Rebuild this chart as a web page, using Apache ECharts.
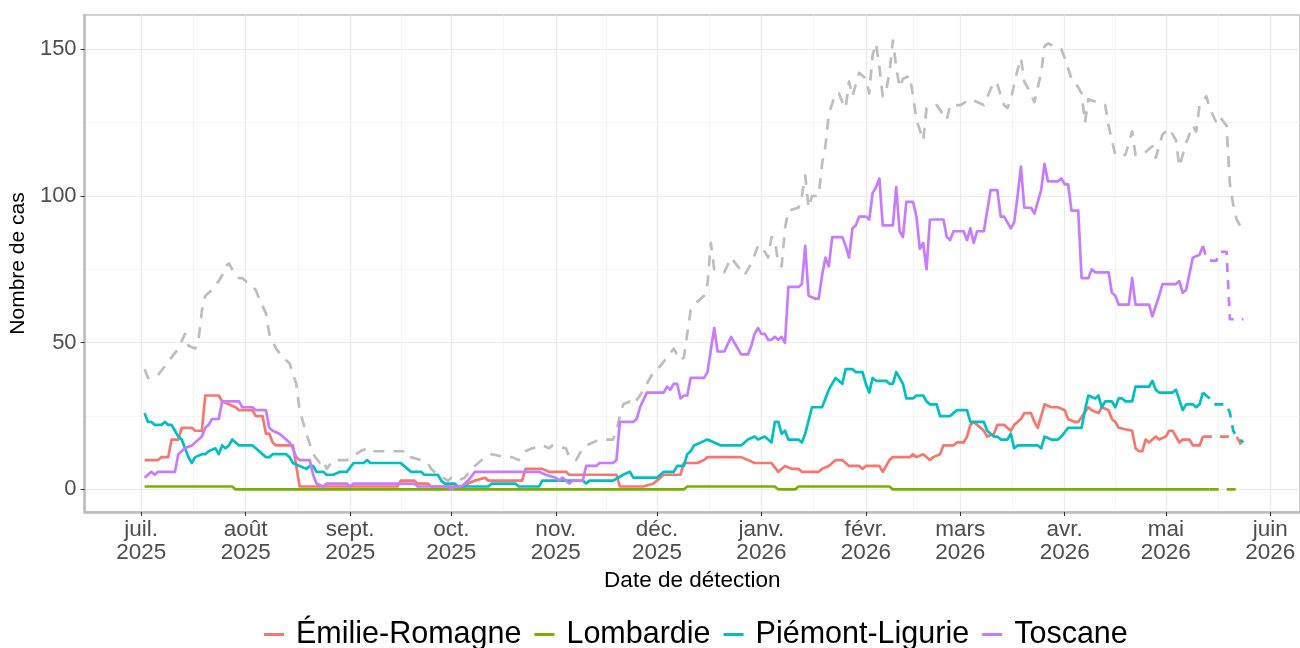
<!DOCTYPE html>
<html>
<head>
<meta charset="utf-8">
<script src="https://cdn.jsdelivr.net/npm/echarts@6/dist/echarts.min.js"></script>
<style>
  html, body { margin: 0; padding: 0; background: #ffffff; }
  #chart { width: 1300px; height: 648px; }
</style>
</head>
<body>
<div id="chart"></div>
<script>
// Daily counts by region; each point is [days since 2025-07-01, cases].
const startDate = '2025-07-01';

const emilieRomagne = [[1,10],[5,10],[6,11],[8,11],[9,17],[11,17],[12,21],[15,21],[16,20],[18,20],[19,32],[23,32],[24,30],[26,29],[28,28],[29,27],[33,27],[34,25],[36,25],[37,19],[38,19],[39,16],[40,15],[45,15],[46,8],[47,1],[76,1],[77,3],[81,3],[82,2],[85,2],[86,1],[96,1],[97,2],[99,3],[102,4],[103,3],[113,3],[114,7],[119,7],[121,6],[126,6],[127,5],[141,5],[142,1],[149,1],[152,2],[153,3],[155,5],[160,5],[161,9],[165,9],[167,10],[168,11],[178,11],[180,10],[182,9],[187,9],[189,6],[191,8],[193,7],[195,7],[196,6],[201,6],[202,7],[204,8],[206,10],[208,10],[209,9],[210,8],[213,8],[214,7],[215,8],[219,8],[220,6],[222,10],[223,11],[228,11],[229,12],[230,11],[232,12],[234,10],[235,11],[237,12],[238,15],[241,15],[242,16],[244,16],[245,18],[246,22],[247,23],[248,22],[250,20],[251,18],[253,19],[254,22],[256,22],[258,20],[259,22],[261,24],[262,26],[264,26],[265,23],[266,21],[267,25],[268,29],[270,28],[272,28],[274,27],[275,24],[277,23],[278,23],[281,28],[282,27],[284,26],[285,28],[287,27],[288,24],[289,23],[290,21],[294,20],[295,14],[296,13],[297,13],[298,17],[299,16],[301,18],[302,17],[304,18],[305,20],[306,20],[308,16],[309,17],[311,17],[312,15],[314,15],[315,18]];
const emilieRomagneProvisional = [[315,18],[325,18],[326,16],[327,13]];

const lombardie = [[1,1],[27,1],[28,0],[161,0],[162,1],[188,1],[189,0],[194,0],[195,1],[222,1],[223,0],[317,0]];
const lombardieProvisional = [[317,0],[327,0]];

const piemontLigurie = [[1,26],[2,23],[3,23],[4,22],[6,22],[7,23],[8,22],[9,22],[10,20],[11,18],[12,17],[13,14],[14,11],[15,9],[16,11],[18,12],[19,12],[20,13],[22,14],[23,12],[24,15],[25,14],[26,15],[27,17],[28,16],[29,15],[33,15],[34,14],[36,12],[37,11],[38,11],[39,12],[43,12],[44,11],[45,9],[47,8],[49,7],[50,8],[51,8],[52,6],[54,6],[55,5],[57,5],[59,6],[61,6],[63,9],[66,9],[67,10],[68,9],[77,9],[79,7],[80,6],[83,6],[84,5],[88,5],[89,3],[90,2],[93,2],[94,1],[103,1],[104,2],[111,2],[112,1],[118,1],[119,3],[131,3],[132,2],[133,3],[140,3],[143,5],[145,6],[146,4],[153,4],[155,6],[158,6],[159,8],[161,8],[162,12],[163,13],[164,15],[166,16],[168,17],[170,16],[172,15],[178,15],[180,17],[182,18],[183,17],[185,18],[186,17],[187,16],[188,23],[189,23],[190,19],[191,20],[192,17],[195,17],[196,16],[197,19],[199,28],[202,28],[204,34],[206,38],[207,37],[208,36],[209,41],[211,41],[212,40],[214,40],[215,36],[216,33],[217,38],[218,37],[221,37],[222,36],[223,36],[224,40],[225,38],[226,36],[227,31],[229,31],[230,32],[232,32],[233,30],[234,29],[236,29],[237,25],[240,25],[241,26],[242,27],[245,27],[246,23],[250,23],[251,20],[253,18],[254,18],[255,17],[257,17],[258,19],[259,14],[260,15],[266,15],[267,14],[268,18],[270,17],[272,17],[273,18],[275,21],[279,21],[280,27],[281,32],[283,31],[284,32],[285,28],[286,30],[288,30],[289,28],[290,31],[291,31],[292,30],[294,30],[295,35],[299,35],[300,37],[301,34],[302,33],[306,33],[307,34],[309,27],[310,29],[312,29],[313,28],[314,29],[315,33]];
const piemontLigurieProvisional = [[315,33],[317,31],[318,29],[322,29],[323,26],[324,20],[325,18],[326,17],[327,16]];

const toscane = [[1,4],[2,5],[3,6],[4,5],[5,6],[10,6],[11,12],[12,13],[13,14],[15,15],[16,16],[18,18],[19,21],[20,22],[21,24],[23,24],[24,30],[29,30],[30,28],[33,28],[34,27],[37,27],[38,21],[39,20],[41,19],[42,18],[44,16],[45,14],[46,11],[47,10],[50,10],[51,5],[52,2],[54,1],[55,2],[61,2],[62,1],[63,2],[81,2],[82,1],[91,1],[92,0],[93,1],[95,1],[97,3],[99,6],[118,6],[120,5],[123,4],[124,3],[125,4],[126,3],[127,2],[128,3],[131,3],[132,8],[135,8],[136,9],[140,9],[141,10],[142,23],[146,23],[147,24],[148,28],[150,33],[155,33],[156,35],[157,34],[158,36],[159,36],[160,31],[161,32],[162,32],[163,38],[167,38],[168,40],[170,55],[171,47],[173,47],[175,52],[176,50],[178,46],[180,46],[181,49],[182,53],[183,55],[184,53],[185,53],[186,51],[187,51],[188,52],[189,51],[190,52],[191,50],[192,69],[195,69],[196,70],[197,83],[198,66],[200,65],[201,65],[202,73],[203,79],[204,76],[205,86],[208,86],[209,83],[210,79],[211,89],[212,90],[213,93],[215,93],[216,92],[217,101],[218,103],[219,106],[220,90],[223,90],[224,103],[225,88],[226,86],[227,98],[229,98],[230,93],[231,82],[232,84],[233,75],[234,92],[238,92],[239,86],[240,85],[241,88],[244,88],[245,85],[246,89],[247,84],[248,88],[250,88],[251,95],[252,102],[254,102],[255,93],[256,93],[257,91],[258,89],[259,91],[260,100],[261,110],[262,96],[264,96],[265,94],[267,102],[268,111],[269,105],[272,105],[273,106],[274,104],[275,104],[276,95],[278,95],[279,72],[281,72],[282,75],[283,74],[287,74],[288,67],[289,66],[290,63],[293,63],[294,72],[295,63],[299,63],[300,59],[302,66],[303,70],[307,70],[308,71],[309,67],[310,68],[312,79],[314,80],[315,83]];
const toscaneProvisional = [[315,83],[316,79],[317,78],[319,78],[320,81],[322,81],[323,58],[327,58]];

// All regions combined.
const total = [[1,41],[2,38],[5,39],[7,42],[9,45],[11,48],[13,53],[14,49],[16,48],[17,51],[18,61],[19,66],[21,68],[23,71],[24,73],[25,76],[26,77],[27,75],[29,72],[30,72],[34,68],[35,65],[37,60],[38,53],[40,48],[42,45],[44,43],[46,36],[47,27],[49,19],[51,12],[53,9],[54,10],[55,7],[57,10],[61,10],[65,13],[67,14],[68,13],[79,13],[80,11],[83,10],[85,9],[86,7],[88,5],[91,3],[92,4],[94,3],[96,4],[98,7],[101,10],[104,12],[108,11],[110,11],[112,10],[114,13],[116,14],[119,15],[121,14],[122,15],[126,14],[127,11],[129,10],[131,14],[132,15],[136,17],[140,17],[141,20],[142,25],[143,29],[145,30],[146,29],[148,32],[150,36],[152,40],[154,42],[156,45],[158,48],[160,44],[161,45],[162,53],[163,61],[165,64],[167,66],[168,70],[169,84],[170,75],[173,74],[175,79],[177,76],[179,73],[181,77],[183,83],[184,83],[186,79],[187,86],[188,85],[189,77],[190,76],[191,89],[192,95],[195,96],[196,100],[197,107],[198,96],[199,100],[201,100],[202,111],[203,117],[204,128],[206,135],[207,135],[208,132],[209,130],[210,139],[211,134],[213,142],[215,140],[216,135],[217,148],[218,152],[219,144],[220,134],[221,136],[222,142],[223,153],[224,144],[225,137],[226,140],[228,141],[229,134],[230,126],[232,119],[233,130],[236,131],[239,126],[240,131],[243,131],[246,133],[250,131],[253,139],[254,138],[256,131],[257,130],[258,133],[260,143],[261,147],[262,139],[263,137],[265,132],[267,142],[268,151],[269,152],[273,150],[274,147],[276,140],[277,139],[279,135],[280,125],[281,133],[286,131],[287,124],[289,114],[292,114],[294,122],[295,114],[298,115],[300,117],[301,113],[303,121],[305,123],[307,119],[308,110],[310,118],[312,124],[313,122],[314,131],[316,134],[317,130],[319,125],[320,127],[322,124],[323,104],[324,97],[325,92],[327,88]];

// Month ticks on the date axis.
const monthTicks = ['2025-07-01','2025-08-01','2025-09-01','2025-10-01','2025-11-01','2025-12-01','2026-01-01','2026-02-01','2026-03-01','2026-04-01','2026-05-01','2026-06-01'];
const monthLabels = ['juil.\n2025','août\n2025','sept.\n2025','oct.\n2025','nov.\n2025','déc.\n2025','janv.\n2026','févr.\n2026','mars\n2026','avr.\n2026','mai\n2026','juin\n2026'];
const caseTicks = [0, 50, 100, 150];
const caseMinorTicks = [25, 75, 125];

const regionNames = ['Émilie-Romagne', 'Lombardie', 'Piémont-Ligurie', 'Toscane'];
const regionColors = ['#F8766D', '#7CAE00', '#00BFC4', '#C77CFF'];

// The date axis runs in days since startDate.
const DAY = 86400000;
const t0 = Date.parse(startDate + 'T00:00:00Z');
const dayOf = s => Math.round((Date.parse(s + 'T00:00:00Z') - t0) / DAY);
const tickDays = monthTicks.map(dayOf);
const minorDays = tickDays.slice(1).map((d, i) => (d + tickDays[i]) / 2);

const FONT = "'Liberation Sans', Arial, sans-serif";
const xMin = -16.8, xMax = 343.8;
const yMin = -7.7, yMax = 161.7;

function monthLabel(v) {
  let best = 0, bestDist = Infinity;
  tickDays.forEach((t, i) => {
    const dd = Math.abs(t - v);
    if (dd < bestDist) { bestDist = dd; best = i; }
  });
  return monthLabels[best];
}

const lineBase = (name, color, data, dash, z) => ({
  name: name,
  type: 'line',
  data: data,
  showSymbol: false,
  symbol: 'none',
  color: color,
  itemStyle: { color: color },
  lineStyle: {
    color: color,
    width: 2.7,
    type: dash || 'solid',
    cap: 'butt',
    join: 'round'
  },
  emphasis: { disabled: true },
  z: z,
  animation: false
});

const series = [];
series.push(lineBase('Total', '#BEBEBE', total, [11, 9], 2));
const regionData = [
  [emilieRomagne, emilieRomagneProvisional],
  [lombardie, lombardieProvisional],
  [piemontLigurie, piemontLigurieProvisional],
  [toscane, toscaneProvisional]
];
regionData.forEach((pair, i) => {
  series.push(lineBase(regionNames[i], regionColors[i], pair[0], null, 3 + i));
  series.push(lineBase(regionNames[i], regionColors[i], pair[1], [9, 8], 3 + i));
});

const chart = echarts.init(document.getElementById('chart'), null, { renderer: 'canvas' });
chart.setOption({
  animation: false,
  backgroundColor: '#ffffff',
  textStyle: { fontFamily: FONT },
  grid: {
    left: 82, top: 15, width: 1226, height: 497,
    show: true, borderColor: '#C4C4C4', borderWidth: 1.6, backgroundColor: 'transparent'
  },
  legend: {
    data: regionNames,
    left: 259,
    top: 614,
    icon: 'rect',
    itemWidth: 20,
    itemHeight: 3,
    itemGap: 13,
    textStyle: { fontFamily: FONT, fontSize: 30.5, color: '#000000', padding: [0, 0, 0, 7] },
    selectedMode: false
  },
  xAxis: [
    {
      type: 'value',
      min: xMin, max: xMax,
      name: 'Date de détection',
      nameLocation: 'middle',
      nameGap: 57,
      nameTextStyle: { fontFamily: FONT, fontSize: 22.5, color: '#000000' },
      axisLine: { show: true, onZero: false, lineStyle: { color: '#BDBDBD', width: 2.6 } },
      axisTick: { show: true, customValues: tickDays, length: 4, lineStyle: { color: '#333333', width: 1 } },
      axisLabel: {
        show: true, customValues: tickDays, formatter: v => monthLabel(v),
        fontFamily: FONT, fontSize: 22.5, color: '#4D4D4D', lineHeight: 23, margin: 6
      },
      splitLine: { show: true, lineStyle: { color: '#EBEBEB', width: 1.2 } }
    },
    {
      type: 'value',
      min: xMin, max: xMax,
      position: 'top',
      axisLine: { show: false },
      axisTick: { show: false, customValues: minorDays },
      axisLabel: { show: false, customValues: minorDays },
      splitLine: { show: true, lineStyle: { color: '#F2F2F2', width: 0.8 } }
    }
  ],
  yAxis: [
    {
      type: 'value',
      min: yMin, max: yMax,
      name: 'Nombre de cas',
      nameLocation: 'middle',
      nameRotate: 90,
      nameGap: 47,
      nameTextStyle: { fontFamily: FONT, fontSize: 21, color: '#000000' },
      axisLine: { show: true, onZero: false, lineStyle: { color: '#BDBDBD', width: 2.6 } },
      axisTick: { show: true, customValues: caseTicks, length: 4, lineStyle: { color: '#333333', width: 1 } },
      axisLabel: {
        show: true, customValues: caseTicks, formatter: v => String(Math.round(v)),
        fontFamily: FONT, fontSize: 22, color: '#4D4D4D', margin: 8
      },
      splitLine: { show: true, lineStyle: { color: '#EBEBEB', width: 1.2 } }
    },
    {
      type: 'value',
      min: yMin, max: yMax,
      position: 'right',
      axisLine: { show: false },
      axisTick: { show: false, customValues: caseMinorTicks },
      axisLabel: { show: false, customValues: caseMinorTicks },
      splitLine: { show: true, lineStyle: { color: '#F2F2F2', width: 0.8 } }
    }
  ],
  series: series
});
</script>
</body>
</html>
